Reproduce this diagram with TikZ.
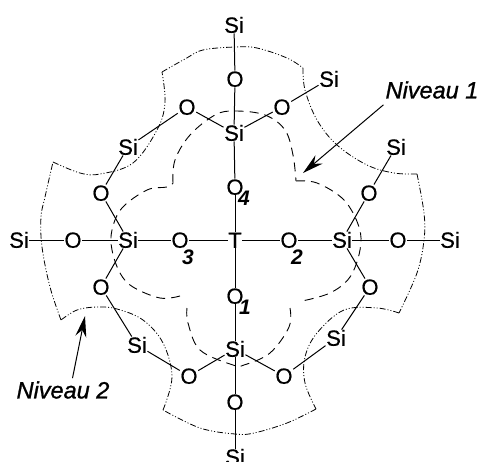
\documentclass[tikz,border=0pt]{standalone}
\usepackage{fontspec}
\setmainfont{Liberation Sans}
\newfontfamily\heavyfont{Liberation Sans}[FakeBold=0.5]
\newfontfamily\tagfont{Liberation Sans}[FakeBold=1.1]
\usepackage{tikz}
\usetikzlibrary{arrows.meta}

\begin{document}
\begin{tikzpicture}[
        x=1pt,
        y=-1pt,
        atom/.style={
            inner sep=0.5pt,
            text height=15.5pt,
            text depth=0pt,
            font=\fontsize{22}{24}\heavyfont
        },
        index/.style={
            inner sep=0pt,
            font=\fontsize{21}{23}\selectfont\bfseries\itshape
        },
        tag/.style={
            inner sep=0pt,
            font=\fontsize{23.5}{25}\tagfont\itshape
        },
        bond/.style={
            line width=1pt,
            black
        },
        levelone/.style={
            line width=0.9pt,
            dash pattern=on 9pt off 6pt,
            black
        },
        leveltwo/.style={
            line width=0.8pt,
            dash pattern=on 6pt off 2pt on 1pt off 2pt on 1pt off 2pt,
            black
        },
        arrow/.style={
            -{Stealth[length=21pt,width=11pt]},
            line width=1pt,
            black
        }
    ]
    \useasboundingbox (0,0) rectangle (477,461);

    % Level 2 contour
    \draw[leveltwo] plot[smooth, tension=0.6] coordinates {(162,72) (185,59) (203,50) (235,47) (257,48) (287,58) (303,68)};
    \draw[leveltwo] plot[smooth, tension=0.6] coordinates {(303,68) (305,90) (317,120) (337,145) (367,165) (394,173) (417,174)};
    \draw[leveltwo] plot[smooth, tension=0.6] coordinates {(417,174) (424,213) (424,240) (417,273) (399,313)};
    \draw[leveltwo] plot[smooth, tension=0.6] coordinates {(399,313) (377,308) (344,310) (317,333) (305,357) (305,383) (316,409)};
    \draw[leveltwo] plot[smooth, tension=0.6] coordinates {(316,409) (287,423) (254,433) (235,434) (200,428) (163,410)};
    \draw[leveltwo] plot[smooth, tension=0.6] coordinates {(163,410) (172,377) (163,343) (143,320) (117,309) (97,307) (77,310) (61,320)};
    \draw[leveltwo] plot[smooth, tension=0.6] coordinates {(61,320) (50,287) (42,247) (41,217) (45,197) (53,162)};
    \draw[leveltwo] plot[smooth, tension=0.6] coordinates {(53,162) (80,173) (100,174) (133,163) (157,130) (165,103) (162,72)};

    % Level 1 contour
    \draw[levelone] plot[smooth, tension=0.6] coordinates {(173,183) (175,160) (190,135) (215,115) (235,111) (265,115) (285,130) (293,155) (296,181)};
    \draw[levelone] plot[smooth, tension=0.6] coordinates {(296,181) (317,183) (344,200) (359,227) (360,250) (350,277) (330,293) (302,301)};
    \draw[levelone] plot[smooth, tension=0.6] coordinates {(290,308) (289,327) (270,353) (244,365) (233,365) (200,350) (188,323) (187,308)};
    \draw[levelone] plot[smooth, tension=0.6] coordinates {(180,296) (160,298) (133,287) (120,273) (112,250) (112,230) (122,208) (147,190) (167,187) (173,183)};

    % Centre and axes
    \node[atom] (t)      at (235,240) {T};
    \node[atom] (o1)     at (235,296) {O};
    \node[atom] (o2)     at (289,240) {O};
    \node[atom] (o3)     at (180,240) {O};
    \node[atom] (o4)     at (235,187) {O};
    \node[atom] (siup)   at (234,133) {Si};
    \node[atom] (siright) at (342,240) {Si};
    \node[atom] (sileft) at (128,240) {Si};
    \node[atom] (sidown) at (235,349) {Si};

    % Outer atoms, top
    \node[atom] (otop)   at (235,79)  {O};
    \node[atom] (sitop)  at (234,25)  {Si};
    \node[atom] (oupl)   at (187,107) {O};
    \node[atom] (siupl)  at (128,147) {Si};
    \node[atom] (oupr)   at (282,107) {O};
    \node[atom] (siupr)  at (329,79)  {Si};

    % Outer atoms, right
    \node[atom] (oright)  at (398,240) {O};
    \node[atom] (sifarr)  at (450,240) {Si};
    \node[atom] (orightu) at (369,193) {O};
    \node[atom] (sirightu) at (396,147) {Si};
    \node[atom] (orightd) at (370,287) {O};
    \node[atom] (sirightd) at (336,338) {Si};

    % Outer atoms, bottom
    \node[atom] (obot)   at (235,402) {O};
    \node[atom] (sibot)  at (235,457) {Si};
    \node[atom] (odownl) at (189,376) {O};
    \node[atom] (odownr) at (284,376) {O};

    % Outer atoms, left
    \node[atom] (oleft)  at (73,240)  {O};
    \node[atom] (sifarl) at (19,240)  {Si};
    \node[atom] (oleftu) at (101,193) {O};
    \node[atom] (oleftd) at (101,287) {O};
    \node[atom] (sileftd) at (137,345) {Si};

    % Oxygen numbers
    \node[index] (n1) at (245,307) {1};
    \node[index] (n2) at (297,257) {2};
    \node[index] (n3) at (188,257) {3};
    \node[index] (n4) at (244,198) {4};

    % Bonds: axes
    \draw[bond] (t) -- (o1);
    \draw[bond] (o1) -- (sidown);
    \draw[bond] (sidown) -- (obot);
    \draw[bond] (obot) -- (sibot);
    \draw[bond] (t) -- (o2);
    \draw[bond] (o2) -- (siright);
    \draw[bond] (siright) -- (oright);
    \draw[bond] (oright) -- (sifarr);
    \draw[bond] (t) -- (o3);
    \draw[bond] (o3) -- (sileft);
    \draw[bond] (sileft) -- (oleft);
    \draw[bond] (oleft) -- (sifarl);
    \draw[bond] (t) -- (o4);
    \draw[bond] (o4) -- (siup);
    \draw[bond] (siup) -- (otop);
    \draw[bond] (otop) -- (sitop);

    % Bonds: branches
    \draw[bond] (siup) -- (oupl);
    \draw[bond] (oupl) -- (siupl);
    \draw[bond] (siup) -- (oupr);
    \draw[bond] (oupr) -- (siupr);
    \draw[bond] (siright) -- (orightu);
    \draw[bond] (orightu) -- (sirightu);
    \draw[bond] (siright) -- (orightd);
    \draw[bond] (orightd) -- (sirightd);
    \draw[bond] (sidown) -- (odownl);
    \draw[bond] (odownl) -- (sileftd);
    \draw[bond] (sidown) -- (odownr);
    \draw[bond] (odownr) -- (sirightd);
    \draw[bond] (sileft) -- (oleftu);
    \draw[bond] (oleftu) -- (siupl);
    \draw[bond] (sileft) -- (oleftd);
    \draw[bond] (oleftd) -- (sileftd);

    % Level labels
    \node[tag] (nivone) at (432,90)  {Niveau 1};
    \node[tag] (nivtwo) at (63,390)  {Niveau 2};
    \coordinate (tipone) at (303,173);
    \coordinate (tiptwo) at (85,316);
    \draw[arrow] (nivone.south west) ++(-2,6) coordinate (tailone) -- (tipone);
    \draw[arrow] (nivtwo.north) ++(9.5,-3) coordinate (tailtwo) -- (tiptwo);

\end{tikzpicture}
\end{document}
